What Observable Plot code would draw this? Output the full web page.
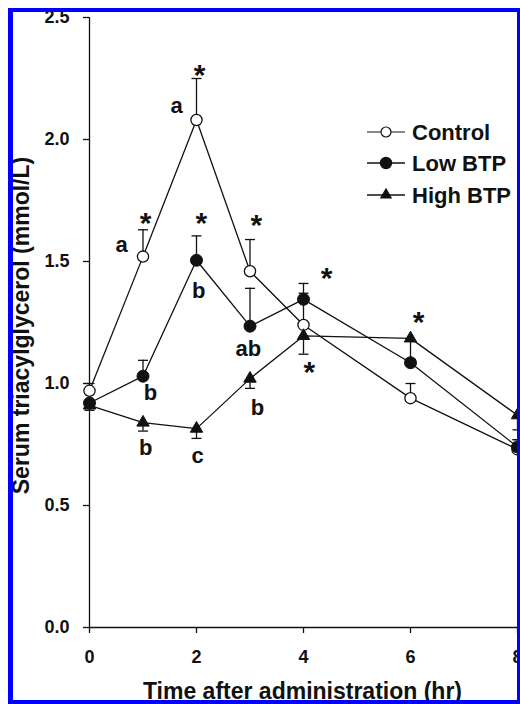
<!DOCTYPE html>
<html>
<head>
<meta charset="utf-8">
<script src="https://cdn.jsdelivr.net/npm/d3@7"></script>
<script src="https://cdn.jsdelivr.net/npm/@observablehq/plot@0.6"></script>
<style>
  html, body { margin: 0; padding: 0; background: #fff; }
  #wrap { position: relative; width: 520px; height: 704px; overflow: hidden;
          font-family: "Liberation Sans", Arial, sans-serif; font-weight: bold; color: #111; }
  #plot { position: absolute; left: 0; top: 0; }
  #frame { position: absolute; left: 8px; top: 8px; width: 504px; height: 688px;
           border-style: solid; border-color: #0000ff; border-width: 4px 4px 4px 5px;
           pointer-events: none; z-index: 5; }
  .title { position: absolute; font-size: 23px; line-height: 23px; white-space: nowrap; text-align: center; }
  #xtitle { left: 0; width: 605px; top: 679.5px; }
  #ytitle { left: -178.6px; top: 314px; width: 400px; height: 23px; transform: rotate(-90deg); transform-origin: 50% 50%; }
  #legend { position: absolute; left: 0; top: 0; z-index: 4; }
</style>
</head>
<body>
<div id="wrap">
  <div id="plot"></div>
  <div id="legend"></div>
  <div class="title" id="xtitle">Time after administration (hr)</div>
  <div class="title" id="ytitle">Serum triacylglycerol (mmol/L)</div>
  <div id="frame"></div>
</div>
<script>
// ---- data ----
const times = [0, 1, 2, 3, 4, 6, 8];
const control    = [0.97, 1.52, 2.08, 1.46, 1.24, 0.94, 0.73];
const controlErr = [1.00, 1.63, 2.25, 1.59, 1.37, 1.00, 0.77];
const lowBTP     = [0.92, 1.03, 1.505, 1.235, 1.345, 1.085, 0.74];
const lowErr     = [null, 1.095, 1.605, 1.39, 1.41, null, 0.77];
const highBTP    = [0.91, 0.84, 0.815, 1.02, 1.195, 1.185, 0.87];
const highErr    = [0.89, 0.805, 0.775, 0.98, 1.12, 1.10, 0.81];
const seriesNames = ["Control", "Low BTP", "High BTP"];
const xTicks = [0, 2, 4, 6, 8];
const yTicks = [0, 0.5, 1.0, 1.5, 2.0, 2.5];
// significance letters and asterisks (time, value position, label)
const letterNotes = [
  {time: 0.60, value: 1.566, label: "a"},
  {time: 1.63, value: 2.139, label: "a"},
  {time: 2.04, value: 1.381, label: "b"},
  {time: 2.97, value: 1.143, label: "ab"},
  {time: 1.14, value: 0.963, label: "b"},
  {time: 1.05, value: 0.734, label: "b"},
  {time: 2.02, value: 0.705, label: "c"},
  {time: 3.14, value: 0.898, label: "b"}
];
const starNotes = [
  {time: 1.05, value: 1.676, label: "*"},
  {time: 2.06, value: 2.283, label: "*"},
  {time: 2.09, value: 1.676, label: "*"},
  {time: 3.12, value: 1.668, label: "*"},
  {time: 4.43, value: 1.451, label: "*"},
  {time: 4.11, value: 1.066, label: "*"},
  {time: 6.15, value: 1.270, label: "*"}
];

// ---- build table ----
const seriesVals = [control, lowBTP, highBTP];
const seriesErr = [controlErr, lowErr, highErr];
const rows = seriesNames.flatMap((name, s) =>
  times.map((t, i) => ({series: name, time: t, value: seriesVals[s][i], end: seriesErr[s][i]})));
const errRows = rows.filter(d => d.end != null);

const ink = "#111";
const cap = { draw(ctx) { ctx.moveTo(-5, 0); ctx.lineTo(5, 0); } };

const chart = Plot.plot({
  width: 520, height: 704,
  marginLeft: 89, marginRight: 3, marginTop: 17, marginBottom: 77,
  x: {domain: [0, 8]},
  y: {domain: [0, 2.5]},
  style: {fontFamily: '"Liberation Sans", Arial, sans-serif', fontWeight: "bold", fontSize: "18px", color: ink, background: "transparent"},
  marks: [
    Plot.ruleX([0], {stroke: ink, strokeWidth: 1.3}),
    Plot.ruleY([0], {stroke: ink, strokeWidth: 1.3}),
    Plot.axisY({ticks: yTicks, tickFormat: d3.format(".1f"), tickSize: 6, tickPadding: 14, label: null, fontSize: 18, stroke: ink, strokeWidth: 1.3}),
    Plot.axisX({ticks: xTicks, tickSize: 6, tickPadding: 17, label: null, fontSize: 18, stroke: ink, strokeWidth: 1.3}),
    Plot.line(rows, {x: "time", y: "value", z: "series", stroke: ink, strokeWidth: 1.3}),
    Plot.ruleX(errRows, {x: "time", y1: "value", y2: "end", stroke: ink, strokeWidth: 1.3}),
    Plot.dot(errRows, {x: "time", y: "end", symbol: cap, stroke: ink, strokeWidth: 1.3, fill: "none"}),
    Plot.dot(rows.filter(d => d.series === "Control"), {x: "time", y: "value", r: 5.6, fill: "white", stroke: ink, strokeWidth: 1.3}),
    Plot.dot(rows.filter(d => d.series === "Low BTP"), {x: "time", y: "value", r: 6, fill: ink, stroke: ink, strokeWidth: 1}),
    Plot.dot(rows.filter(d => d.series === "High BTP"), {x: "time", y: "value", r: 4.6, symbol: "triangle", fill: ink, stroke: ink, strokeWidth: 1}),
    Plot.text(letterNotes, {x: "time", y: "value", text: "label", fontSize: 22, fontWeight: "bold", fill: ink}),
    Plot.text(starNotes, {x: "time", y: "value", text: "label", fontSize: 30, fontWeight: "bold", fill: ink, dy: 5})
  ]
});
document.getElementById("plot").appendChild(chart);

// ---- legend ----
const leg = d3.select("#legend").append("svg").attr("width", 520).attr("height", 704);
const legRowsY = [132, 163, 195];
seriesNames.forEach((name, i) => {
  const g = leg.append("g").attr("transform", `translate(0,${legRowsY[i]})`);
  g.append("line").attr("x1", 367).attr("x2", 405).attr("y1", 0).attr("y2", 0)
    .attr("stroke", ink).attr("stroke-width", i === 0 ? 1 : 1.6);
  if (i === 2) {
    g.append("path").attr("d", d3.symbol(d3.symbolTriangle, Math.PI * 4.6 * 4.6)())
      .attr("transform", "translate(386,0)").attr("fill", ink);
  } else {
    g.append("circle").attr("cx", 386).attr("cy", 0).attr("r", i === 0 ? 5 : 5.6)
      .attr("fill", i === 0 ? "white" : ink).attr("stroke", ink).attr("stroke-width", 1.2);
  }
  g.append("text").attr("x", 412).attr("y", 0).attr("dy", "0.36em")
    .attr("font-family", '"Liberation Sans", Arial, sans-serif').attr("font-weight", "bold")
    .attr("font-size", 22).attr("fill", ink).text(name);
});
</script>
</body>
</html>
